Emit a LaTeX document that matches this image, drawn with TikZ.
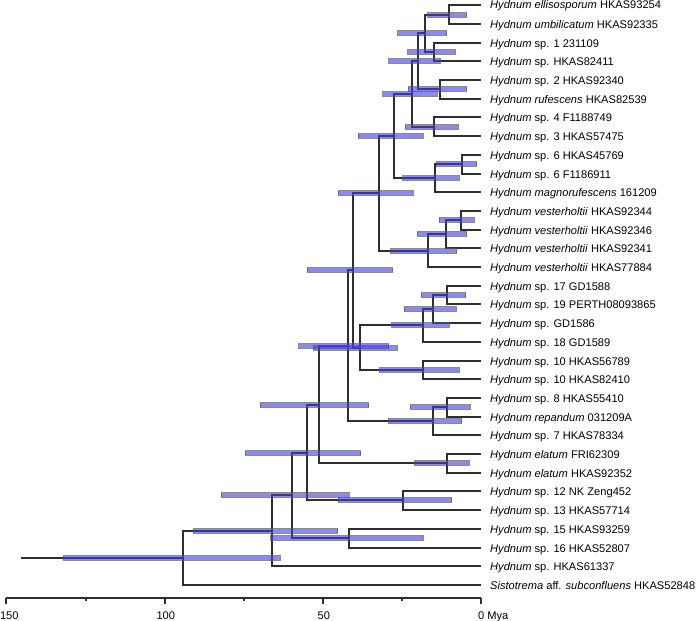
\documentclass[tikz,border=0pt]{standalone}
\usepackage{fontspec}
\setmainfont{Liberation Sans}
\newcommand\hpdbar[3]{\draw[hpd] (#1,{#3-2.4}) rectangle (#2,{#3+2.4});}
\begin{document}
\begin{tikzpicture}[x=1pt,y=-1pt,
  branch/.style={line width=1.5pt, draw=black!82, line join=miter},
  hpd/.style={fill={rgb,255:red,60;green,60;blue,230}, fill opacity=0.6, draw=black!65, draw opacity=0.7, line width=0.9pt},
  taxon/.style={anchor=base west, inner sep=0pt, font=\fontsize{11.1}{13}\selectfont},
  axlab/.style={anchor=base, inner sep=0pt, font=\fontsize{11.1}{13}\selectfont},
  axisline/.style={line width=1.5pt, draw=black!82}]
\useasboundingbox (0,0) rectangle (697,621);
% leaf ends
\coordinate (t1) at (481,5);
\coordinate (t2) at (481,24);
\coordinate (t3) at (481,43);
\coordinate (t4) at (481,61);
\coordinate (t5) at (481,80);
\coordinate (t6) at (481,99);
\coordinate (t7) at (481,117);
\coordinate (t8) at (481,136);
\coordinate (t9) at (481,155);
\coordinate (t10) at (481,174);
\coordinate (t11) at (481,192);
\coordinate (t12) at (481,211);
\coordinate (t13) at (481,230);
\coordinate (t14) at (481,248);
\coordinate (t15) at (481,267);
\coordinate (t16) at (481,286);
\coordinate (t17) at (481,304);
\coordinate (t18) at (481,323);
\coordinate (t19) at (481,342);
\coordinate (t20) at (481,361);
\coordinate (t21) at (481,379);
\coordinate (t22) at (481,398);
\coordinate (t23) at (481,417);
\coordinate (t24) at (481,435);
\coordinate (t25) at (481,454);
\coordinate (t26) at (481,473);
\coordinate (t27) at (481,491);
\coordinate (t28) at (481,510);
\coordinate (t29) at (481,529);
\coordinate (t30) at (481,548);
\coordinate (t31) at (481,566);
\coordinate (t32) at (481,585);
% internal nodes
\coordinate (n12) at (449,15);
\coordinate (n34) at (434,52);
\coordinate (n1234) at (425,33);
\coordinate (n56) at (440,89);
\coordinate (n16) at (418,61);
\coordinate (n78) at (434,127);
\coordinate (nA) at (412,94);
\coordinate (n910) at (462,164);
\coordinate (nB) at (435,178);
\coordinate (nAB) at (394,136);
\coordinate (n1213) at (461,220);
\coordinate (n1214) at (446,234);
\coordinate (nV) at (428,251);
\coordinate (nC) at (379,193);
\coordinate (n1617) at (447,295);
\coordinate (n1618) at (433,309);
\coordinate (n1619) at (423,325);
\coordinate (n2021) at (423,370);
\coordinate (nF) at (360,348);
\coordinate (nD) at (353,270);
\coordinate (n2223) at (447,407);
\coordinate (n2224) at (433,421);
\coordinate (nE) at (348,346);
\coordinate (nEl) at (447,463);
\coordinate (nG) at (319,405);
\coordinate (n2728) at (403,500);
\coordinate (nH) at (307,453);
\coordinate (n2930) at (349,538);
\coordinate (nI) at (292,495);
\coordinate (nJ) at (272,531);
\coordinate (nK) at (183,558);
\coordinate (root) at (21,558);
% branches
\foreach \p/\c in {n12/t1,n12/t2,n34/t3,n34/t4,n1234/n12,n1234/n34,n56/t5,n56/t6,
  n16/n1234,n16/n56,n78/t7,n78/t8,nA/n16,nA/n78,n910/t9,n910/t10,nB/n910,nB/t11,
  nAB/nA,nAB/nB,n1213/t12,n1213/t13,n1214/n1213,n1214/t14,nV/n1214,nV/t15,nC/nAB,nC/nV,
  n1617/t16,n1617/t17,n1618/n1617,n1618/t18,n1619/n1618,n1619/t19,n2021/t20,n2021/t21,
  nF/n1619,nF/n2021,nD/nC,nD/nF,n2223/t22,n2223/t23,n2224/n2223,n2224/t24,nE/nD,nE/n2224,
  nEl/t25,nEl/t26,nG/nE,nG/nEl,n2728/t27,n2728/t28,nH/nG,nH/n2728,n2930/t29,n2930/t30,
  nI/nH,nI/n2930,nJ/nI,nJ/t31,nK/nJ,nK/t32}
  \draw[branch] (\p) |- (\c);
\draw[branch] (root) -- (nK);
% HPD bars
\hpdbar{427.7}{466.7}{15}
\hpdbar{407.7}{455.3}{52}
\hpdbar{397.7}{446.7}{33}
\hpdbar{408.3}{466.7}{89}
\hpdbar{388.7}{440}{61}
\hpdbar{405}{458.3}{127}
\hpdbar{382.7}{437.3}{94}
\hpdbar{436}{476.7}{164}
\hpdbar{402.7}{459.3}{178}
\hpdbar{358.3}{423.3}{136}
\hpdbar{338.3}{413.3}{193}
\hpdbar{439.3}{474.3}{220}
\hpdbar{417.3}{466.7}{234}
\hpdbar{390.7}{456.7}{251}
\hpdbar{421}{465.7}{295}
\hpdbar{404.3}{456}{309}
\hpdbar{391.7}{449.3}{325}
\hpdbar{379.3}{459.3}{370}
\hpdbar{298.5}{388.5}{346}
\hpdbar{313.3}{397.3}{348}
\hpdbar{307.3}{392.7}{270}
\hpdbar{410.3}{470.3}{407}
\hpdbar{388.3}{461.7}{421}
\hpdbar{414.3}{469}{463}
\hpdbar{260.3}{368.7}{405}
\hpdbar{338.3}{451.7}{500}
\hpdbar{245}{360.7}{453}
\hpdbar{270.7}{423.3}{538}
\hpdbar{221}{349}{495}
\hpdbar{193.3}{337.7}{531}
\hpdbar{63.3}{280.3}{558}
% taxon labels
\node[taxon] (l1) at (490,9) {\textit{Hydnum ellisosporum} HKAS93254};
\node[taxon] (l2) at (490,28) {\textit{Hydnum umbilicatum} HKAS92335};
\node[taxon] (l3) at (490,47) {\textit{Hydnum} sp. 1 231109};
\node[taxon] (l4) at (490,65) {\textit{Hydnum} sp. HKAS82411};
\node[taxon] (l5) at (490,84) {\textit{Hydnum} sp. 2 HKAS92340};
\node[taxon] (l6) at (490,103) {\textit{Hydnum rufescens} HKAS82539};
\node[taxon] (l7) at (490,121) {\textit{Hydnum} sp. 4 F1188749};
\node[taxon] (l8) at (490,140) {\textit{Hydnum} sp. 3 HKAS57475};
\node[taxon] (l9) at (490,159) {\textit{Hydnum} sp. 6 HKAS45769};
\node[taxon] (l10) at (490,178) {\textit{Hydnum} sp. 6 F1186911};
\node[taxon] (l11) at (490,196) {\textit{Hydnum magnorufescens} 161209};
\node[taxon] (l12) at (490,215) {\textit{Hydnum vesterholtii} HKAS92344};
\node[taxon] (l13) at (490,234) {\textit{Hydnum vesterholtii} HKAS92346};
\node[taxon] (l14) at (490,252) {\textit{Hydnum vesterholtii} HKAS92341};
\node[taxon] (l15) at (490,271) {\textit{Hydnum vesterholtii} HKAS77884};
\node[taxon] (l16) at (490,290) {\textit{Hydnum} sp. 17 GD1588};
\node[taxon] (l17) at (490,308) {\textit{Hydnum} sp. 19 PERTH08093865};
\node[taxon] (l18) at (490,327) {\textit{Hydnum} sp. GD1586};
\node[taxon] (l19) at (490,346) {\textit{Hydnum} sp. 18 GD1589};
\node[taxon] (l20) at (490,365) {\textit{Hydnum} sp. 10 HKAS56789};
\node[taxon] (l21) at (490,383) {\textit{Hydnum} sp. 10 HKAS82410};
\node[taxon] (l22) at (490,402) {\textit{Hydnum} sp. 8 HKAS55410};
\node[taxon] (l23) at (490,421) {\textit{Hydnum repandum} 031209A};
\node[taxon] (l24) at (490,439) {\textit{Hydnum} sp. 7 HKAS78334};
\node[taxon] (l25) at (490,458) {\textit{Hydnum elatum} FRI62309};
\node[taxon] (l26) at (490,477) {\textit{Hydnum elatum} HKAS92352};
\node[taxon] (l27) at (490,495) {\textit{Hydnum} sp. 12 NK Zeng452};
\node[taxon] (l28) at (490,514) {\textit{Hydnum} sp. 13 HKAS57714};
\node[taxon] (l29) at (490,533) {\textit{Hydnum} sp. 15 HKAS93259};
\node[taxon] (l30) at (490,552) {\textit{Hydnum} sp. 16 HKAS52807};
\node[taxon] (l31) at (490,570) {\textit{Hydnum} sp. HKAS61337};
\node[taxon] (l32) at (490,589) {\textit{Sistotrema} aff. \textit{subconfluens} HKAS52848};
% axis
\coordinate (a150) at (6,598);
\coordinate (a125) at (86,598);
\coordinate (a100) at (165,598);
\coordinate (a75) at (244,598);
\coordinate (a50) at (323,598);
\coordinate (a25) at (402,598);
\coordinate (a0) at (481,598);
\draw[axisline] (a150) -- (a0);
\foreach \t in {a150,a100,a50,a0} \draw[axisline] (\t) -- ++(0,5.5);
\foreach \t in {a125,a75,a25} \draw[axisline] (\t) -- ++(0,2.5);
\node[axlab] (x150) at (9.3,619.5) {150};
\node[axlab] (x100) at (165.8,619.5) {100};
\node[axlab] (x50) at (323.8,619.5) {50};
\node[axlab, anchor=base west] (x0) at (478,619.5) {0 Mya};
\end{tikzpicture}
\end{document}
